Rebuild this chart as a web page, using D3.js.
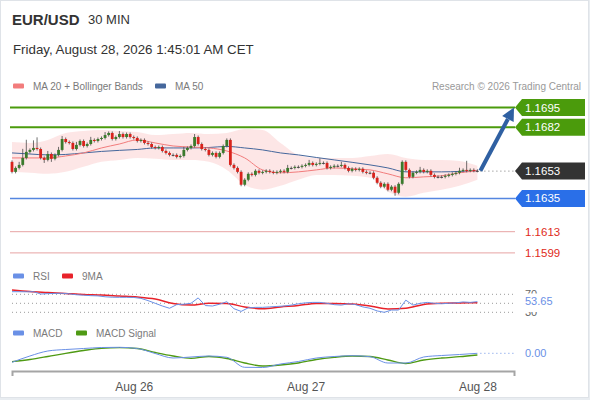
<!DOCTYPE html>
<html>
<head>
<meta charset="utf-8">
<script src="https://cdnjs.cloudflare.com/ajax/libs/d3/7.8.5/d3.min.js"></script>
<style>
  body { margin: 0; background: #e9edf1; font-family: "Liberation Sans", Arial, sans-serif; }
  svg { display: block; }
</style>
</head>
<body>
<svg id="chart" width="590" height="400"></svg>
<script>
// EUR/USD 30 MIN - candles + indicators

const firstOpen = 1.16591;
const closes = [
  1.16525, 1.16551, 1.16571, 1.16617, 1.16657, 1.16670, 1.16683, 1.16676, 1.16617, 1.16604,
  1.16643, 1.16611, 1.16637, 1.16670, 1.16742, 1.16722, 1.16716, 1.16676, 1.16703, 1.16729,
  1.16696, 1.16709, 1.16736, 1.16729, 1.16742, 1.16749, 1.16768, 1.16782, 1.16742, 1.16755,
  1.16775, 1.16755, 1.16775, 1.16755, 1.16749, 1.16729, 1.16736, 1.16716, 1.16709, 1.16689,
  1.16683, 1.16689, 1.16663, 1.16650, 1.16637, 1.16637, 1.16624, 1.16630, 1.16670, 1.16683,
  1.16696, 1.16755, 1.16709, 1.16676, 1.16670, 1.16637, 1.16650, 1.16624, 1.16650, 1.16696,
  1.16736, 1.16571, 1.16551, 1.16525, 1.16440, 1.16473, 1.16512, 1.16505, 1.16532, 1.16519,
  1.16525, 1.16532, 1.16525, 1.16519, 1.16525, 1.16532, 1.16525, 1.16551, 1.16551, 1.16558,
  1.16558, 1.16565, 1.16571, 1.16584, 1.16571, 1.16578, 1.16584, 1.16584, 1.16551, 1.16558,
  1.16565, 1.16565, 1.16571, 1.16551, 1.16532, 1.16545, 1.16538, 1.16545, 1.16525, 1.16519,
  1.16519, 1.16486, 1.16453, 1.16427, 1.16446, 1.16407, 1.16427, 1.16387, 1.16446, 1.16591,
  1.16538, 1.16492, 1.16519, 1.16525, 1.16538, 1.16525, 1.16532, 1.16505, 1.16492, 1.16492,
  1.16492, 1.16499, 1.16505, 1.16512, 1.16519, 1.16532, 1.16538, 1.16532, 1.16538, 1.16532,
  1.16532
];
// wick length beyond the body, in pips
const wickUp = [
  1, 1, 2, 6, 8, 1, 5, 7, 1, 1,  2, 1, 1, 2, 2, 1, 1, 1, 2, 1,
  1, 1, 2, 1, 1, 1, 2, 1, 1, 1,  2, 1, 1, 1, 1, 1, 1, 1, 1, 1,
  1, 1, 1, 1, 1, 1, 1, 1, 2, 1,  1, 2, 1, 1, 1, 1, 1, 1, 1, 1,
  1, 1, 1, 1, 1, 1, 1, 1, 1, 1,  1, 1, 1, 1, 1, 1, 1, 2, 1, 1,
  1, 1, 1, 2, 1, 1, 3, 1, 1, 1,  1, 1, 2, 1, 1, 1, 1, 1, 1, 1,
  1, 1, 1, 1, 1, 1, 1, 1, 1, 1,  1, 1, 1, 1, 2, 1, 1, 1, 1, 1,
  1, 1, 1, 1, 1, 2, 1, 6, 1, 1,  1
];
const wickDn = [
  1, 1, 1, 1, 1, 1, 1, 1, 1, 2,  1, 2, 1, 1, 1, 1, 1, 1, 1, 1,
  1, 1, 1, 1, 1, 1, 1, 1, 1, 1,  1, 1, 1, 1, 1, 1, 1, 1, 1, 1,
  1, 1, 1, 1, 1, 1, 1, 1, 1, 1,  1, 1, 1, 1, 1, 1, 1, 1, 1, 1,
  1, 1, 1, 1, 1, 1, 1, 1, 1, 1,  1, 1, 1, 1, 1, 1, 1, 1, 1, 1,
  1, 1, 1, 1, 1, 1, 1, 1, 1, 1,  1, 1, 1, 1, 1, 1, 1, 1, 1, 1,
  1, 1, 1, 1, 1, 1, 1, 2, 1, 1,  1, 1, 1, 1, 1, 1, 1, 1, 1, 1,
  1, 1, 1, 1, 1, 1, 1, 1, 1, 1,  1
];

// indicator readings, one every 5 candles
const ma50 = [1.16650, 1.16643, 1.16637, 1.16640, 1.16650, 1.16660, 1.16667, 1.16673, 1.16683, 1.16683,
  1.16683, 1.16686, 1.16693, 1.16683, 1.16670, 1.16650, 1.16637, 1.16620, 1.16604, 1.16588,
  1.16571, 1.16551, 1.16525, 1.16525, 1.16525, 1.16528, 1.16532];
const ma20 = [1.16617, 1.16617, 1.16617, 1.16630, 1.16650, 1.16683, 1.16709, 1.16736, 1.16716, 1.16696,
  1.16689, 1.16683, 1.16663, 1.16617, 1.16538, 1.16519, 1.16525, 1.16538, 1.16551, 1.16545,
  1.16538, 1.16512, 1.16486, 1.16492, 1.16499, 1.16519, 1.16532];
const bbUpper = [1.16722, 1.16716, 1.16736, 1.16782, 1.16795, 1.16801, 1.16795, 1.16788, 1.16768, 1.16775,
  1.16782, 1.16775, 1.16782, 1.16808, 1.16801, 1.16716, 1.16637, 1.16617, 1.16617, 1.16617,
  1.16630, 1.16643, 1.16617, 1.16604, 1.16604, 1.16597, 1.16565];
const bbLower = [1.16525, 1.16519, 1.16512, 1.16525, 1.16558, 1.16591, 1.16604, 1.16617, 1.16611, 1.16604,
  1.16604, 1.16591, 1.16538, 1.16440, 1.16407, 1.16433, 1.16473, 1.16505, 1.16505, 1.16499,
  1.16486, 1.16394, 1.16361, 1.16387, 1.16407, 1.16433, 1.16473];

// RSI, one every 2 candles
const rsi = [75.8, 75.8, 75.5, 75.8, 70.7, 71.5, 72, 72.2, 71, 69,
  68, 67, 66.5, 64.5, 63.5, 63.3, 63.3, 63, 61, 56,
  50, 44, 39, 47, 48, 50, 62, 45, 44, 48,
  53.6, 38, 32, 40, 41, 41, 42, 43, 44, 46,
  49, 51, 52, 52, 50, 47, 46, 49, 47, 42,
  39, 33, 30, 35, 35, 57, 46, 50, 52, 50,
  49, 50, 51, 53, 52, 53.65];
// RSI 9MA, one every 5 candles
const rsiMa = [79.6, 76.2, 74, 71.8, 69.6, 68.4, 66.2, 64, 59.6, 49.6,
  46.2, 50, 49.6, 41.8, 38, 41.8, 45.1, 49.6, 49.6, 48.4,
  44, 37.3, 38.9, 47.3, 50, 50.7, 51.3];
const macd = [-0.00018, -0.000054, 0.000046, 0.000076, 0.000096, 0.000116, 0.00012, 0.000096, -0.000004, -0.000094,
  -0.000074, -0.000054, -0.00008, -0.00028, -0.000284, -0.000214, -0.000164, -0.000094, -0.000064, -0.000048,
  -0.000068, -0.000194, -0.000194, -0.000074, -0.000044, -0.000024, 0];
const macdSignal = [-0.000168, -0.000124, -0.000064, 0, 0.000056, 0.0001, 0.000112, 0.000096, 0.000016, -0.000054,
  -0.0001, -0.000064, -0.000104, -0.000194, -0.000254, -0.000234, -0.000194, -0.000124, -0.00008, -0.000054,
  -0.000064, -0.000134, -0.000204, -0.000134, -0.000094, -0.000068, -0.000034];

const levelValues = [1.1695, 1.1682, 1.1653, 1.1635, 1.1613, 1.1599];
const levelKinds = ['resistance', 'resistance', 'last', 'support', 'target', 'target'];
const rsiLevels = [70, 50, 30];
const dayTicks = [new Date(2026, 7, 26), new Date(2026, 7, 27), new Date(2026, 7, 28)];

const PIP = 0.0001;
const HALF_HOUR = 30 * 60 * 1000;
const START = new Date(2026, 7, 25, 7, 0).getTime();
const candleTime = i => new Date(START + i * HALF_HOUR);

const colors = {
    up: '#3b7a2c',
    down: '#d8231c',
    wick: '#4a4a4a',
    ma20: '#f27c7c',
    ma50: '#45679c',
    band: '#fde2e2',
    resistance: '#4b9b0c',
    last: '#333333',
    support: '#2a6fe8',
    supportLine: '#5586e0',
    target: '#e02a20',
    targetLine: '#e7a3a3',
    arrow: '#2f60a2',
    rsi: '#6a90e6',
    rsiMa: '#e8222a',
    macd: '#6a90e6',
    macdSignal: '#4f9a14',
    text: '#333',
    muted: '#7a7a7a',
    grid: '#9a9a9a'
};

const svg = d3.select('#chart');
svg.append('rect').attr('x', 0.5).attr('y', 0.5).attr('width', 588).attr('height', 397)
    .attr('fill', '#fff').attr('stroke', '#dfe3e8');

const x = d3.scaleTime().domain([candleTime(0), candleTime(130)]).range([12, 477.4]);
const y = d3.scaleLinear().domain([1.1599, 1.1695]).range([252.9, 107.5]);
const rsiY = d3.scaleLinear().domain([30, 70]).range([312.3, 294.3]);
const macdY = d3.scaleLinear().domain([-0.0003, 0.0001]).range([368.3, 348.3]);

// header
svg.append('text').attr('x', 12).attr('y', 25).attr('font-size', 15).attr('font-weight', 'bold')
    .attr('fill', colors.text).text('EUR/USD');
svg.append('text').attr('x', 88).attr('y', 24).attr('font-size', 13).attr('fill', colors.text).text('30 MIN');
svg.append('text').attr('x', 13).attr('y', 54).attr('font-size', 13.3).attr('fill', colors.text)
    .text('Friday, August 28, 2026 1:45:01 AM CET');

function legend(items, yPos) {
    items.forEach(item => {
        svg.append('rect').attr('x', item.x).attr('y', yPos - 2.5).attr('width', 11).attr('height', 5)
            .attr('rx', 1).attr('fill', item.color);
        svg.append('text').attr('x', item.x + 20).attr('y', yPos + 3.5).attr('font-size', 10)
            .attr('fill', colors.muted).text(item.label);
    });
}
legend([{ x: 13, color: colors.ma20, label: 'MA 20 + Bollinger Bands' },
        { x: 155, color: colors.ma50, label: 'MA 50' }], 86);
svg.append('text').attr('x', 581).attr('y', 89.5).attr('text-anchor', 'end').attr('font-size', 10)
    .attr('fill', '#999').text('Research \u00a9 2026 Trading Central');

// bollinger band + moving averages
const every5 = (v, i) => ({ t: candleTime(i * 5), v });
const band = bbUpper.map((v, i) => ({ t: candleTime(i * 5), hi: v, lo: bbLower[i] }));
svg.append('path').datum(band)
    .attr('fill', colors.band).attr('opacity', 0.85)
    .attr('d', d3.area().curve(d3.curveMonotoneX).x(d => x(d.t)).y0(d => y(d.lo)).y1(d => y(d.hi)));

const priceLine = d3.line().curve(d3.curveMonotoneX).x(d => x(d.t)).y(d => y(d.v));
svg.append('path').datum(ma50.map(every5)).attr('fill', 'none').attr('stroke', colors.ma50)
    .attr('stroke-width', 1).attr('d', priceLine);
svg.append('path').datum(ma20.map(every5)).attr('fill', 'none').attr('stroke', colors.ma20)
    .attr('stroke-width', 1).attr('d', priceLine);

// candles
const candles = closes.map((c, i) => {
    const o = i === 0 ? firstOpen : closes[i - 1];
    return {
        t: candleTime(i), o, c,
        h: Math.max(o, c) + wickUp[i] * PIP,
        l: Math.min(o, c) - wickDn[i] * PIP
    };
});
const BODY_W = 2.8;
const candleG = svg.append('g').selectAll('g').data(candles).join('g');
candleG.append('line')
    .attr('x1', d => x(d.t)).attr('x2', d => x(d.t))
    .attr('y1', d => y(d.h)).attr('y2', d => y(d.l))
    .attr('stroke', colors.wick).attr('stroke-width', 0.8);
candleG.append('rect')
    .attr('x', d => x(d.t) - BODY_W / 2)
    .attr('y', d => y(Math.max(d.o, d.c)))
    .attr('width', BODY_W)
    .attr('height', d => Math.max(1, y(Math.min(d.o, d.c)) - y(Math.max(d.o, d.c))))
    .attr('fill', d => d.c > d.o ? colors.up : d.c < d.o ? colors.down : colors.wick);

// horizontal levels with flag labels
const LABEL_X = 515;
const levelStyle = {
    resistance: { line: colors.resistance, width: 2, box: colors.resistance },
    last: { line: '#777', width: 1, box: colors.last, dash: '1,3' },
    support: { line: colors.supportLine, width: 1.5, box: colors.support },
    target: { line: colors.targetLine, width: 1, text: colors.target }
};
const lastX = x(candleTime(closes.length - 1)) + 3;
levelValues.forEach((v, i) => {
    const st = levelStyle[levelKinds[i]];
    const yy = y(v);
    svg.append('line')
        .attr('x1', levelKinds[i] === 'last' ? lastX : 10).attr('x2', LABEL_X)
        .attr('y1', yy).attr('y2', yy)
        .attr('stroke', st.line).attr('stroke-width', st.width)
        .attr('stroke-dasharray', st.dash || null);
    if (st.box) {
        svg.append('path')
            .attr('d', `M${LABEL_X},${yy}L${LABEL_X + 7},${yy - 8.5}H585V${yy + 8.5}H${LABEL_X + 7}Z`)
            .attr('fill', st.box);
    }
    svg.append('text').attr('x', 525).attr('y', yy + 4).attr('font-size', 11.5)
        .attr('fill', st.text || '#fff').text(d3.format('.4f')(v));
});

// forecast arrow from last close to the first resistance
const from = [lastX, y(closes[closes.length - 1])];
const tip = [LABEL_X - 1, y(levelValues[0])];
const len = Math.hypot(tip[0] - from[0], tip[1] - from[1]);
const u = [(tip[0] - from[0]) / len, (tip[1] - from[1]) / len];
const base = [tip[0] - 13 * u[0], tip[1] - 13 * u[1]];
svg.append('line').attr('x1', from[0]).attr('y1', from[1]).attr('x2', base[0]).attr('y2', base[1])
    .attr('stroke', colors.arrow).attr('stroke-width', 4);
svg.append('path')
    .attr('d', `M${tip[0]},${tip[1]}L${base[0] + 6.5 * u[1]},${base[1] - 6.5 * u[0]}L${base[0] - 6.5 * u[1]},${base[1] + 6.5 * u[0]}Z`)
    .attr('fill', colors.arrow);

// RSI pane
legend([{ x: 13, color: colors.rsi, label: 'RSI' }, { x: 62, color: colors.rsiMa, label: '9MA' }], 276);
rsiLevels.forEach(v => {
    svg.append('line').attr('x1', 12).attr('x2', 516).attr('y1', rsiY(v)).attr('y2', rsiY(v))
        .attr('stroke', colors.grid).attr('stroke-dasharray', '1,3');
});
svg.append('path').datum(rsiMa.map(every5)).attr('fill', 'none').attr('stroke', colors.rsiMa)
    .attr('stroke-width', 1.5)
    .attr('d', d3.line().curve(d3.curveMonotoneX).x(d => x(d.t)).y(d => rsiY(d.v)));
svg.append('path').datum(rsi.map((v, i) => ({ t: candleTime(i * 2), v }))).attr('fill', 'none')
    .attr('stroke', colors.rsi).attr('stroke-width', 1)
    .attr('d', d3.line().x(d => x(d.t)).y(d => rsiY(d.v)));

// the current RSI label hides the middle of the 70 / 30 labels, so they are clipped
const rsiLast = rsi[rsi.length - 1];
const defs = svg.append('defs');
defs.append('clipPath').attr('id', 'clip70').append('rect')
    .attr('x', 515).attr('y', 280).attr('width', 70).attr('height', 13.5);
defs.append('clipPath').attr('id', 'clip30').append('rect')
    .attr('x', 515).attr('y', 312).attr('width', 70).attr('height', 12);
[[70, 'clip70'], [30, 'clip30']].forEach(([v, clip]) => {
    svg.append('g').attr('clip-path', `url(#${clip})`)
        .append('text').attr('x', 525).attr('y', rsiY(v) + 3.8).attr('font-size', 11)
        .attr('fill', '#666').text(v);
});
svg.append('text').attr('x', 525).attr('y', rsiY(rsiLast) + 3.5).attr('font-size', 11)
    .attr('fill', colors.rsi).text(d3.format('.2f')(rsiLast));

// MACD pane
legend([{ x: 13, color: colors.macd, label: 'MACD' }, { x: 76, color: colors.macdSignal, label: 'MACD Signal' }], 333);
const macdLine = d3.line().curve(d3.curveMonotoneX).x(d => x(d.t)).y(d => macdY(d.v));
svg.append('path').datum(macdSignal.map(every5)).attr('fill', 'none').attr('stroke', colors.macdSignal)
    .attr('stroke-width', 1.3).attr('d', macdLine);
svg.append('path').datum(macd.map(every5)).attr('fill', 'none').attr('stroke', colors.macd)
    .attr('stroke-width', 1).attr('d', macdLine);
const macdLast = macd[macd.length - 1];
svg.append('line').attr('x1', lastX).attr('x2', LABEL_X).attr('y1', macdY(macdLast)).attr('y2', macdY(macdLast))
    .attr('stroke', colors.macd).attr('stroke-dasharray', '1,3');
svg.append('text').attr('x', 525).attr('y', macdY(macdLast) + 4).attr('font-size', 11)
    .attr('fill', colors.macd).text(d3.format('.2f')(macdLast));

// time axis
const xAxisScale = x.copy().domain([x.invert(12), x.invert(514)]).range([12, 514]);
const axis = svg.append('g').attr('transform', 'translate(0,371)')
    .call(d3.axisBottom(xAxisScale).tickValues(dayTicks).tickFormat(d3.timeFormat('%b %d'))
        .tickSizeInner(0).tickSizeOuter(5).tickPadding(11));
axis.select('.domain').attr('stroke', '#a5a5a5').attr('stroke-width', 2);
axis.selectAll('text').attr('font-size', 12).attr('fill', '#555')
    .attr('font-family', '"Liberation Sans", Arial, sans-serif');
</script>
</body>
</html>
